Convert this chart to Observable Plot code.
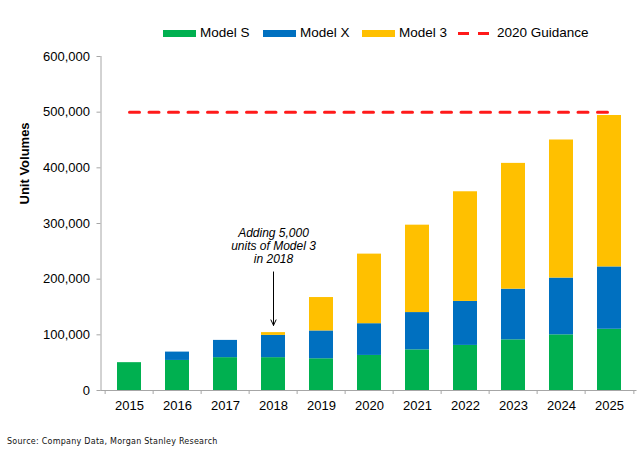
<!DOCTYPE html>
<html>
<head>
<meta charset="utf-8">
<script src="https://cdn.jsdelivr.net/npm/d3@7"></script>
<script src="https://cdn.jsdelivr.net/npm/@observablehq/plot@0.6"></script>
<style>
  body { margin: 0; background: #fff; font-family: "Liberation Sans", Arial, sans-serif; }
  #wrap { width: 640px; height: 450px; position: relative; overflow: hidden; }
  #legend { position: relative; height: 46px; font-size: 13.5px; color: #000; }
  .item { position: absolute; top: 25px; height: 16px; line-height: 16px; display: flex; align-items: center; white-space: nowrap; }
  .sw { display: inline-block; width: 33px; height: 7px; margin-right: 4px; }
  #chart svg { display: block; }
  #caption { padding-left: 7px; padding-top: 19px; font: 8px "DejaVu Sans", Verdana, sans-serif; line-height: 10px; color: #111; letter-spacing: 0.25px; }
</style>
</head>
<body>
<div id="wrap">
  <div id="legend"></div>
  <div id="chart"></div>
  <div id="caption"></div>
</div>
<script>
// ---- data ----
const years = ["2015","2016","2017","2018","2019","2020","2021","2022","2023","2024","2025"];
const modelS = [50000, 54000, 59000, 59000, 57000, 63000, 73000, 81000, 91000, 100000, 110000];
const modelX = [0, 15000, 31000, 40000, 50000, 57000, 67000, 79000, 91000, 102000, 112000];
const model3 = [0, 0, 0, 5000, 60000, 125000, 157000, 197000, 226000, 248000, 272000];
const guidance = 500000;
const seriesNames = ["Model S", "Model X", "Model 3"];
const seriesColors = ["#00B050", "#0070C0", "#FFC000"];
const guidanceName = "2020 Guidance";
const guidanceColor = "#FF1A1A";
const yTicks = [0, 100000, 200000, 300000, 400000, 500000, 600000];
const annotationText = "Adding 5,000\nunits of Model 3\nin 2018";
const annotationYear = "2018";
const annotationY = 259500;
const arrowFrom = 213000, arrowTo = 117000;
const yTitle = "Unit Volumes";
const captionText = "Source: Company Data, Morgan Stanley Research";

// ---- table ----
const seriesValues = [modelS, modelX, model3];
const rows = [];
seriesNames.forEach((name, si) => {
  years.forEach((yr, i) => rows.push({year: yr, model: name, value: seriesValues[si][i]}));
});

// ---- layout ----
const W = 640, H = 372, ML = 100.5, MR = 3.5, MT = 10, MB = 28;
const step = (W - ML - MR) / years.length;
const axisColor = "#A6A6A6";
const fmt = d3.format(",");

// ---- legend ----
const legend = document.getElementById("legend");
const legendX = [163, 263, 362];
seriesNames.forEach((n, i) => {
  const it = document.createElement("div");
  it.className = "item";
  it.style.left = legendX[i] + "px";
  it.innerHTML = `<span class="sw" style="background:${seriesColors[i]}"></span><span>${n}</span>`;
  legend.appendChild(it);
});
{
  const it = document.createElement("div");
  it.className = "item";
  it.style.left = "458px";
  it.innerHTML = `<svg width="31" height="7" style="margin-right:8px"><line x1="0" x2="31" y1="3.5" y2="3.5" stroke="${guidanceColor}" stroke-width="3" stroke-dasharray="11,9"/></svg><span>${guidanceName}</span>`;
  legend.appendChild(it);
}

// ---- chart ----
const chart = Plot.plot({
  width: W, height: H,
  marginLeft: ML, marginRight: MR, marginTop: MT, marginBottom: MB,
  style: {fontFamily: "'Liberation Sans', Arial, sans-serif", fontSize: "13px", color: "#000", background: "#fff"},
  x: {domain: years, paddingInner: 0.5, paddingOuter: 0.25, label: null},
  y: {domain: [0, 600000], label: null},
  color: {domain: seriesNames, range: seriesColors},
  marks: [
    Plot.barY(rows, {x: "year", y: "value", fill: "model", order: seriesNames}),
    Plot.line(years, {x: d => d, y: () => guidance, stroke: guidanceColor, strokeWidth: 3, strokeDasharray: "10,9.5"}),
    Plot.frame({anchor: "left", stroke: axisColor}),
    Plot.ruleY([0], {stroke: axisColor}),
    Plot.axisY({ticks: yTicks, tickFormat: fmt, tickSize: 4, tickPadding: 7, stroke: axisColor, fill: "#000", label: null}),
    Plot.axisX({tickSize: 0, tickPadding: 10, fill: "#000", label: null}),
    Plot.axisX({ticks: years, tickSize: 4, text: null, stroke: axisColor, dx: -step / 2, label: null}),
    Plot.axisX({ticks: [years[years.length - 1]], tickSize: 4, text: null, stroke: axisColor, dx: step / 2, label: null}),
    Plot.text([annotationText], {x: () => annotationYear, y: () => annotationY, text: d => d, fontStyle: "italic", fontSize: 12, lineHeight: 1.08, fill: "#000"}),
    Plot.arrow([0], {x1: () => annotationYear, x2: () => annotationYear, y1: () => arrowFrom, y2: () => arrowTo, stroke: "#000", strokeWidth: 1, headLength: 9, headAngle: 50}),
    Plot.text([yTitle], {frameAnchor: "left", text: d => d, rotate: -90, fontWeight: "bold", fontSize: 13, dx: -76, dy: -19, fill: "#000"})
  ]
});
document.getElementById("chart").appendChild(chart);
document.getElementById("caption").textContent = captionText;
</script>
</body>
</html>
